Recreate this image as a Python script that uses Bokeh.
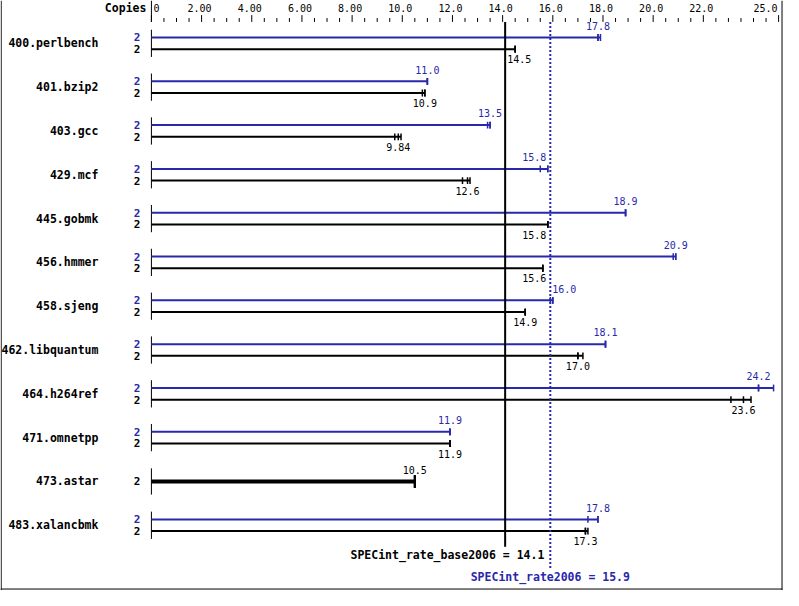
from bokeh.plotting import figure
from bokeh.models import ColumnDataSource, Range1d
from bokeh.core.properties import value
from bokeh.embed import file_html
from bokeh.resources import INLINE

# ---------------- data ----------------
benchmarks = ["400.perlbench", "401.bzip2", "403.gcc", "429.mcf", "445.gobmk",
              "456.hmmer", "458.sjeng", "462.libquantum", "464.h264ref",
              "471.omnetpp", "473.astar", "483.xalancbmk"]
base_copies = [2, 2, 2, 2, 2, 2, 2, 2, 2, 2, 2, 2]
peak_copies = [2, 2, 2, 2, 2, 2, 2, 2, 2, 2, None, 2]
base_median = [14.5, 10.9, 9.84, 12.6, 15.8, 15.6, 14.9, 17.0, 23.6, 11.9, 10.5, 17.3]
peak_median = [17.8, 11.0, 13.5, 15.8, 18.9, 20.9, 16.0, 18.1, 24.2, 11.9, None, 17.8]
base_runs = [
    [14.5, 14.5, 14.5],
    [10.8, 10.9, 10.9],
    [9.70, 9.84, 9.95],
    [12.4, 12.6, 12.7],
    [15.8, 15.8, 15.8],
    [15.6, 15.6, 15.6],
    [14.9, 14.9, 14.9],
    [17.0, 17.0, 17.2],
    [23.1, 23.6, 23.9],
    [11.9, 11.9, 11.9],
    [10.5, 10.5, 10.5],
    [17.3, 17.3, 17.4],
]
peak_runs = [
    [17.8, 17.8, 17.9],
    [11.0, 11.0, 11.0],
    [13.4, 13.5, 13.5],
    [15.5, 15.8, 15.8],
    [18.9, 18.9, 18.9],
    [20.8, 20.9, 20.9],
    [15.9, 16.0, 16.0],
    [18.1, 18.1, 18.1],
    [24.2, 24.2, 24.8],
    [11.9, 11.9, 11.9],
    None,
    [17.4, 17.8, 17.8],
]
base_score = 14.1
peak_score = 15.9
base_score_label = "SPECint_rate_base2006 = 14.1"
peak_score_label = "SPECint_rate2006 = 15.9"
axis_title = "Copies"
tick_values = [0, 2, 4, 6, 8, 10, 12, 14, 16, 18, 20, 22, 25]
tick_labels = ["0", "2.00", "4.00", "6.00", "8.00", "10.0", "12.0", "14.0",
               "16.0", "18.0", "20.0", "22.0", "25.0"]
minor_step = 0.5

# ---------------- layout constants ----------------
W, H = 783, 590
REF_W, REF_H = 799, 606          # layout designed in reference pixel units
REF_PX_PER_UNIT = 25.6
REF_ZERO = 154
X_LO = -REF_ZERO / REF_PX_PER_UNIT
X_HI = (REF_W - REF_ZERO) / REF_PX_PER_UNIT
SCALE = W / (X_HI - X_LO)          # screen px per value unit
AXIS_Y = 22                        # bottom of tick marks
ROW_TOP, PITCH, PAIR = 38, 45, 12

BLUE = "#2828aa"
BLACK = "#000000"
MONO = value("DejaVu Sans Mono")


def xref(px):
    """reference-pixel column -> value units (for frame decorations only)"""
    return (px - REF_ZERO) / REF_PX_PER_UNIT


def fmt(v):
    return f"{v:.2f}" if v < 10 else f"{v:.1f}"


def place(center, text, char_px, lines, gap_l=4, gap_r=2):
    hw = len(text) * char_px / 2 / SCALE
    for L in lines:
        half = 1.5 / SCALE
        if center - hw < L + half and center + hw > L - half:
            if center < L:
                center = L - gap_l / SCALE - hw
            else:
                center = L + gap_r / SCALE + hw
    return center


p = figure(width=W, height=H, output_backend="svg", toolbar_location=None,
           x_range=Range1d(X_LO, X_HI), y_range=Range1d(REF_H, 0),
           x_axis_location=None, y_axis_location=None,
           min_border_left=0, min_border_right=0, min_border_top=0, min_border_bottom=0,
           background_fill_color="white", border_fill_color="white",
           outline_line_color=None)
p.grid.visible = False

# ---------------- value axis on top ----------------
n_minor = int(round(tick_values[-1] / minor_step))
minor = [k * minor_step for k in range(n_minor + 1)
         if k * minor_step not in tick_values]
p.segment(x0=tick_values, y0=[AXIS_Y - 7] * len(tick_values),
          x1=tick_values, y1=[AXIS_Y] * len(tick_values),
          line_color="black", line_width=1)
p.segment(x0=minor, y0=[AXIS_Y - 4] * len(minor), x1=minor, y1=[AXIS_Y] * len(minor),
          line_color="black", line_width=1)
p.segment(x0=[0], y0=[0], x1=[0], y1=[AXIS_Y], line_color="black", line_width=1)
lab_style = dict(text_color="black", text_font=MONO, text_font_size=value("10px"),
                 text_baseline="middle")
p.text(x=tick_values[:1], y=[8], text=tick_labels[:1], text_align="left",
       x_offset=2, **lab_style)
p.text(x=tick_values[1:-1], y=[8] * (len(tick_values) - 2), text=tick_labels[1:-1],
       text_align="center", x_offset=-2, **lab_style)
p.text(x=tick_values[-1:], y=[8], text=tick_labels[-1:], text_align="right",
       x_offset=-1, **lab_style)
p.text(x=[0], y=[8], text=[axis_title], text_align="right", x_offset=-5,
       text_color="black", text_font=MONO, text_font_size=value("11.5px"),
       text_font_style="bold", text_baseline="middle")

# ---------------- build glyph tables ----------------
bars = dict(x1=[], y=[], color=[], lw=[])
marks = dict(x=[], y0=[], y1=[], color=[], lw=[])
vals = dict(x=[], y=[], text=[], color=[])
copies = dict(y=[], text=[], color=[])
names = dict(y=[], text=[])
rowlines = dict(y0=[], y1=[])

for i, name in enumerate(benchmarks):
    top = ROW_TOP + PITCH * i
    names["y"].append(top + PAIR / 2)
    names["text"].append(name)
    has_peak = peak_runs[i] is not None
    if has_peak:
        yp, yb = top, top + PAIR
        rowlines["y0"].append(yp - 8)
        rowlines["y1"].append(yb + 8)
        series = [(peak_runs[i], peak_median[i], peak_copies[i], yp, BLUE, 2, 3.5, -12),
                  (base_runs[i], base_median[i], base_copies[i], yb, BLACK, 2, 3.5, 10.5)]
    else:
        yb = top + PAIR / 2
        rowlines["y0"].append(yb - 13.5)
        rowlines["y1"].append(yb + 13.5)
        series = [(base_runs[i], base_median[i], base_copies[i], yb, BLACK, 4, 6.5, -12)]
    for runs, med, cp, y, col, lw, th, dy in series:
        bars["x1"].append(max(runs))
        bars["y"].append(y)
        bars["color"].append(col)
        bars["lw"].append(lw)
        for r in runs:
            marks["x"].append(r)
            marks["y0"].append(y - th)
            marks["y1"].append(y + th)
            marks["color"].append(col)
            marks["lw"].append(1.5 if lw == 2 else 2)
        t = fmt(med)
        vals["x"].append(place(med, t, 6.02, [base_score, peak_score]))
        vals["y"].append(y + dy)
        vals["text"].append(t)
        vals["color"].append(col)
        copies["y"].append(y)
        copies["text"].append(str(cp))
        copies["color"].append(col)

# row axis lines at zero
p.segment(x0=0, y0="y0", x1=0, y1="y1", source=ColumnDataSource(rowlines),
          line_color="black", line_width=1)
# bars
p.segment(x0=0, y0="y", x1="x1", y1="y", source=ColumnDataSource(bars),
          line_color="color", line_width="lw", line_cap="butt")
# individual run marks
p.segment(x0="x", y0="y0", x1="x", y1="y1", source=ColumnDataSource(marks),
          line_color="color", line_width="lw")

# score lines
p.segment(x0=[base_score], y0=[AXIS_Y], x1=[base_score], y1=[561],
          line_color="black", line_width=2)
p.segment(x0=[peak_score], y0=[AXIS_Y], x1=[peak_score], y1=[583],
          line_color=BLUE, line_width=2, line_dash="2 2")

# value labels
p.text(x="x", y="y", text="text", source=ColumnDataSource(vals),
       text_color="color", text_font=MONO, text_font_size=value("10px"),
       text_align="center", text_baseline="middle")
# copies labels
p.text(x=0, y="y", text="text", source=ColumnDataSource(copies),
       text_color="color", text_font=MONO, text_font_size=value("11px"),
       text_font_style="bold", text_align="right", text_baseline="middle",
       x_offset=-11)
# benchmark names
p.text(x=0, y="y", text="text", source=ColumnDataSource(names),
       text_color="black", text_font=MONO, text_font_size=value("11.5px"),
       text_font_style="bold", text_align="right", text_baseline="middle",
       x_offset=-53)

# summary labels
bx = place(base_score, base_score_label, 6.92, [peak_score], gap_l=6)
p.text(x=[bx], y=[570], text=[base_score_label], text_color="black", text_font=MONO,
       text_font_size=value("11.5px"), text_font_style="bold",
       text_align="center", text_baseline="middle")
p.text(x=[peak_score], y=[592], text=[peak_score_label], text_color=BLUE, text_font=MONO,
       text_font_size=value("11.5px"), text_font_style="bold",
       text_align="center", text_baseline="middle")

# chart border (left, right, bottom)
p.segment(x0=[xref(0.7), xref(797.5), xref(0)], y0=[0, 0, 604.5],
          x1=[xref(0.7), xref(797.5), xref(798)], y1=[REF_H, REF_H, 604.5],
          line_color="black", line_width=1)

open("out.html", "w").write(file_html(p, INLINE))
